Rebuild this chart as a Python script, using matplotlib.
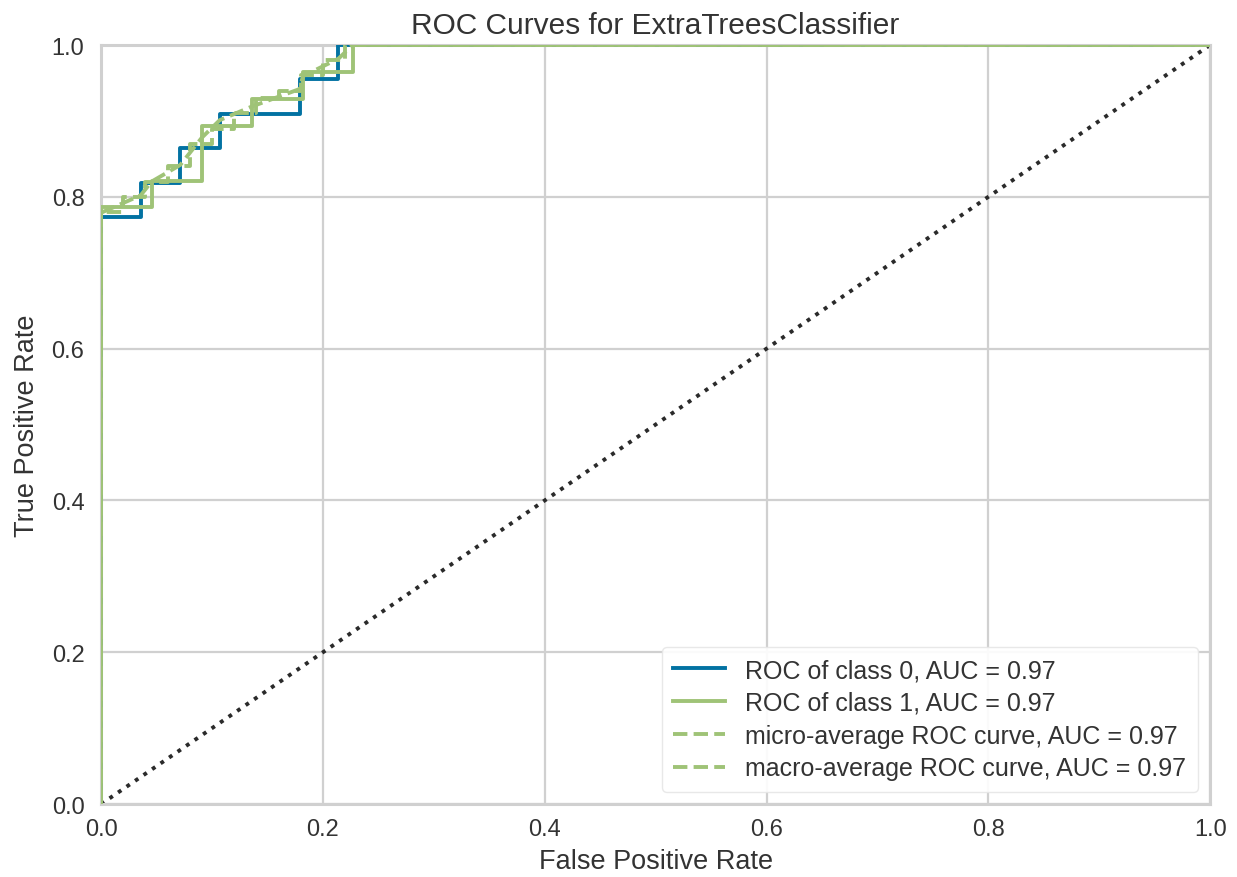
import matplotlib
matplotlib.use("Agg")
import matplotlib.pyplot as plt

plt.rcParams['font.family'] = ['Liberation Sans', 'DejaVu Sans']

# Class 0 ROC (FPR, TPR)
c0_fpr = [0.0, 0.0, 0.0357, 0.0357, 0.0714, 0.0714, 0.107, 0.107, 0.179, 0.179, 0.214, 0.214, 1.0]
c0_tpr = [0.0, 0.773, 0.773, 0.818, 0.818, 0.864, 0.864, 0.909, 0.909, 0.955, 0.955, 1.0, 1.0]

# Class 1 ROC
c1_fpr = [0.0, 0.0, 0.0455, 0.0455, 0.0909, 0.0909, 0.136, 0.136, 0.182, 0.182, 0.227, 0.227, 1.0]
c1_tpr = [0.0, 0.786, 0.786, 0.821, 0.821, 0.893, 0.893, 0.929, 0.929, 0.964, 0.964, 1.0, 1.0]

# Micro-average ROC
mi_fpr = [0.0, 0.0, 0.02, 0.02, 0.04, 0.04, 0.06, 0.06, 0.08, 0.08, 0.10, 0.10, 0.12, 0.12,
          0.14, 0.14, 0.16, 0.16, 0.18, 0.18, 0.20, 0.20, 0.22, 0.22, 1.0]
mi_tpr = [0.0, 0.78, 0.78, 0.80, 0.80, 0.82, 0.82, 0.84, 0.84, 0.87, 0.87, 0.89, 0.89, 0.91,
          0.91, 0.93, 0.93, 0.94, 0.94, 0.96, 0.96, 0.98, 0.98, 1.0, 1.0]

# Macro-average ROC
ma_fpr = [0.0, 0.0357, 0.0455, 0.0714, 0.0909, 0.107, 0.136, 0.179, 0.182, 0.214, 0.227, 1.0]
ma_tpr = [0.779, 0.802, 0.820, 0.842, 0.878, 0.901, 0.919, 0.942, 0.959, 0.982, 1.0, 1.0]

labels = ["ROC of class 0, AUC = 0.97", "ROC of class 1, AUC = 0.97",
          "micro-average ROC curve, AUC = 0.97", "macro-average ROC curve, AUC = 0.97"]

blue = "#0272a2"
green = "#9fc377"

fig = plt.figure(figsize=(12.37, 8.78), dpi=100)
ax = fig.add_axes([0.0817, 0.083, 0.8966, 0.8646])

lw = 2.8
ax.plot(c0_fpr, c0_tpr, color=blue, lw=lw, label=labels[0], zorder=3)
ax.plot(c1_fpr, c1_tpr, color=green, lw=lw, label=labels[1], zorder=3)
ax.plot(mi_fpr, mi_tpr, color=green, lw=lw, ls="--", label=labels[2], zorder=3)
ax.plot(ma_fpr, ma_tpr, color=green, lw=lw, ls="--", label=labels[3], zorder=3)
ax.plot([0, 1], [0, 1], color="#2a2a2a", lw=2.8, ls=":", zorder=2)

ax.set_xlim(0, 1)
ax.set_ylim(0, 1)
ax.set_xticks([0, 0.2, 0.4, 0.6, 0.8, 1.0])
ax.set_yticks([0, 0.2, 0.4, 0.6, 0.8, 1.0])
ax.grid(True, color="#d0d0d0", lw=1.6)
ax.set_axisbelow(True)
for s in ax.spines.values():
    s.set_color("#d0d0d0")
    s.set_linewidth(2.2)
ax.tick_params(axis="y", length=0, labelsize=17, colors="#333333", pad=12)
ax.tick_params(axis="x", length=0, labelsize=17, colors="#333333", pad=10)

ax.set_title("ROC Curves for ExtraTreesClassifier", fontsize=21.5, color="#333333", pad=9)
ax.set_xlabel("False Positive Rate", fontsize=19.5, color="#333333", labelpad=6)
ax.set_ylabel("True Positive Rate", fontsize=19.5, color="#333333", labelpad=8)

leg = ax.legend(loc="lower right", fontsize=18, frameon=True, fancybox=True,
                edgecolor="#e6e6e6", facecolor="white", framealpha=0.9,
                handlelength=2.1, handletextpad=0.8, labelspacing=0.35,
                borderpad=0.45, borderaxespad=0.5)
for t in leg.get_texts():
    t.set_color("#333333")

fig.savefig("out.png", dpi=100)
